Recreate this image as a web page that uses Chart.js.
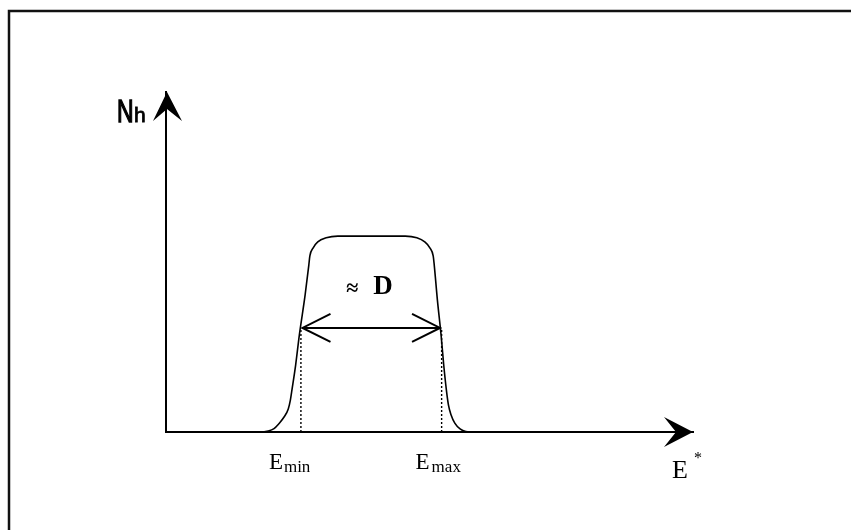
<!DOCTYPE html>
<html>
<head>
<meta charset="utf-8">
<script src="https://cdn.jsdelivr.net/npm/chart.js@4/dist/chart.umd.min.js"></script>
<style>
  html, body { margin: 0; padding: 0; background: #fff; }
  #wrap { width: 851px; height: 530px; position: relative; }
</style>
</head>
<body>
<div id="wrap"><canvas id="chart"></canvas></div>
<script>
// plateau curve N_h(E*) (arbitrary units)
const curveX = [1.59, 1.78, 1.94, 2.05, 2.14, 2.24, 2.32, 2.36, 2.39, 2.46, 2.53, 2.64, 2.71, 2.73, 2.79, 2.88, 3.04, 3.26,
                4.54, 4.76, 4.91, 5.01, 5.07, 5.09, 5.15, 5.22, 5.27, 5.32, 5.36, 5.41, 5.48, 5.58, 5.69, 5.86, 6.05];
const curveY = [0, 0, 0.03, 0.10, 0.24, 0.44, 0.68, 0.94, 1.24, 1.97, 2.85, 4.03, 4.91, 5.18, 5.41, 5.59, 5.71, 5.76,
                5.76, 5.71, 5.59, 5.41, 5.18, 4.91, 3.88, 2.85, 1.97, 1.24, 0.79, 0.50, 0.26, 0.09, 0.015, 0, 0];

// width marker
const eMin = 2.56;
const eMax = 5.23;
const widthLevel = 3.06;

// text labels
const yAxisLabel = ['N', 'h'];
const xAxisLabel = ['E', '*'];
const minLabel = ['E', 'min'];
const maxLabel = ['E', 'max'];
const widthLabel = ['\u2248', 'D'];

const curveData = curveX.map((x, i) => ({ x: x, y: curveY[i] }));

// draws the page frame, axis arrowheads, the double arrow heads and all texts
const schemePlugin = {
    id: 'scheme',
    beforeDraw(chart) {
        const c = chart.ctx;
        c.save();
        c.fillStyle = '#fff';
        c.fillRect(0, 0, chart.width, chart.height);
        c.strokeStyle = '#111';
        c.lineWidth = 2.5;
        c.beginPath();
        c.moveTo(chart.width, 11);
        c.lineTo(9, 11);
        c.lineTo(9, chart.height);
        c.stroke();
        c.restore();
    },
    afterDatasetsDraw(chart) {
        const c = chart.ctx;
        const xs = chart.scales.x;
        const ys = chart.scales.y;
        const x0 = xs.left, y0 = ys.bottom;
        c.save();
        c.fillStyle = '#000';
        c.strokeStyle = '#000';

        // y axis arrowhead
        const ty = ys.top;
        c.beginPath();
        c.moveTo(x0 + 1, ty);
        c.lineTo(x0 + 16, ty + 29);
        c.lineTo(x0 + 1, ty + 17);
        c.lineTo(x0 - 13, ty + 29);
        c.closePath();
        c.fill();

        // x axis arrowhead
        const tx = xs.right;
        c.beginPath();
        c.moveTo(tx, y0);
        c.lineTo(tx - 29, y0 - 15);
        c.lineTo(tx - 17, y0);
        c.lineTo(tx - 29, y0 + 15);
        c.closePath();
        c.fill();

        // open heads of the width arrow
        const meta = chart.getDatasetMeta(3);
        const p1 = meta.data[0], p2 = meta.data[1];
        c.lineWidth = 2;
        c.beginPath();
        c.moveTo(p1.x + 28, p1.y - 14);
        c.lineTo(p1.x, p1.y);
        c.lineTo(p1.x + 28, p1.y + 14);
        c.moveTo(p2.x - 28, p2.y - 14);
        c.lineTo(p2.x, p2.y);
        c.lineTo(p2.x - 28, p2.y + 14);
        c.stroke();

        c.textBaseline = 'alphabetic';
        c.textAlign = 'left';

        // N_h
        c.save();
        c.translate(x0 - 49, ty + 30);
        c.scale(0.85, 1.15);
        c.font = '27px "Liberation Sans", Arial, sans-serif';
        c.lineWidth = 1.2;
        c.fillText(yAxisLabel[0], 0, 0);
        c.strokeText(yAxisLabel[0], 0, 0);
        c.restore();
        c.font = '21px "Liberation Sans", Arial, sans-serif';
        c.lineWidth = 0.8;
        c.fillText(yAxisLabel[1], x0 - 32, ty + 30);
        c.strokeText(yAxisLabel[1], x0 - 32, ty + 30);

        // E*
        c.font = '26px "Liberation Serif", "Times New Roman", serif';
        c.fillText(xAxisLabel[0], tx - 21, y0 + 46);
        c.font = '16px "Liberation Serif", "Times New Roman", serif';
        c.fillText(xAxisLabel[1], tx + 1, y0 + 31);

        // E_min, E_max
        const pMin = xs.getPixelForValue(eMin);
        const pMax = xs.getPixelForValue(eMax);
        c.font = '23px "Liberation Serif", "Times New Roman", serif';
        c.fillText(minLabel[0], pMin - 32, y0 + 37);
        c.fillText(maxLabel[0], pMax - 26, y0 + 37);
        c.font = '17px "Liberation Serif", "Times New Roman", serif';
        c.fillText(minLabel[1], pMin - 17, y0 + 40);
        c.fillText(maxLabel[1], pMax - 10, y0 + 40);

        // ≈ D
        const mid = (p1.x + p2.x) / 2;
        c.font = 'bold 22px "Liberation Serif", "Times New Roman", serif';
        c.fillText(widthLabel[0], mid - 25, p1.y - 33);
        c.font = 'bold 27px "Liberation Serif", "Times New Roman", serif';
        c.fillText(widthLabel[1], mid + 2, p1.y - 34);
        c.restore();
    }
};

new Chart(document.getElementById('chart'), {
    type: 'line',
    data: {
        datasets: [
            {
                label: 'N_h',
                data: curveData,
                borderColor: '#000',
                borderWidth: 1.6,
                pointRadius: 0,
                cubicInterpolationMode: 'monotone',
                fill: false
            },
            {
                label: 'E_min',
                data: [{ x: eMin, y: 0 }, { x: eMin, y: widthLevel }],
                borderColor: '#000',
                borderWidth: 1.4,
                borderDash: [2, 2],
                pointRadius: 0
            },
            {
                label: 'E_max',
                data: [{ x: eMax, y: 0 }, { x: eMax, y: widthLevel }],
                borderColor: '#000',
                borderWidth: 1.4,
                borderDash: [2, 2],
                pointRadius: 0
            },
            {
                label: 'D',
                data: [{ x: eMin + 0.03, y: widthLevel }, { x: eMax - 0.03, y: widthLevel }],
                borderColor: '#000',
                borderWidth: 2,
                pointRadius: 0
            }
        ]
    },
    options: {
        responsive: true,
        maintainAspectRatio: false,
        animation: false,
        layout: { padding: { left: 166, right: 158, top: 92, bottom: 98 } },
        plugins: {
            legend: { display: false },
            tooltip: { enabled: false }
        },
        scales: {
            x: {
                type: 'linear',
                min: 0,
                max: 10,
                grid: { display: false, drawTicks: false },
                ticks: { display: false },
                border: { display: true, color: '#000', width: 2 }
            },
            y: {
                type: 'linear',
                min: 0,
                max: 10,
                grid: { display: false, drawTicks: false },
                ticks: { display: false },
                border: { display: true, color: '#000', width: 2 }
            }
        }
    },
    plugins: [schemePlugin]
});
</script>
</body>
</html>
